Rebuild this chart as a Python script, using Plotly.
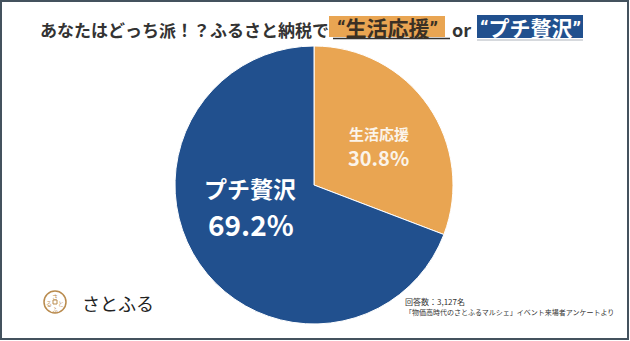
import plotly.graph_objects as go

# Survey result data
labels = ["生活応援", "プチ贅沢"]
shares = [30.8, 69.2]
slice_colors = ["#E9A552", "#21508E"]

title_main = "あなたはどっち派！？ふるさと納税で"
respondents = "回答数：3,127名"
source_note = "「物価高時代のさとふるマルシェ」イベント来場者アンケートより"
brand = "さとふる"

W, H = 630, 341
JP = "Noto Sans CJK JP"

fig = go.Figure()

# Pie: centre (314, 185) px, radius 139 px
cx, cy, r = 314, 185, 139
fig.add_trace(go.Pie(
    labels=labels,
    values=shares,
    sort=False,
    direction="clockwise",
    rotation=0,
    marker=dict(colors=slice_colors, line=dict(color="white", width=1)),
    textinfo="none",
    hoverinfo="skip",
    showlegend=False,
    domain=dict(x=[(cx - r) / W, (cx + r) / W],
                y=[(H - cy - r) / H, (H - cy + r) / H]),
))

# Hidden pixel-space axes for text and decorations
fig.update_xaxes(range=[0, W], visible=False, fixedrange=True)
fig.update_yaxes(range=[H, 0], visible=False, fixedrange=True)

ann = []
shapes = []

def text(x, y, s, size, color, bold=False, xanchor="center", family=JP):
    ann.append(dict(x=x, y=y, xref="x", yref="y", text=s, showarrow=False,
                    xanchor=xanchor, yanchor="middle",
                    font=dict(family=family, size=size, color=color,
                              weight="bold" if bold else "normal")))

def quoted(s):
    q = "<span style='font-family:Roboto'>{}</span>"
    return q.format("“") + s + q.format("”")

# Outer frame
shapes.append(dict(type="rect", xref="x", yref="y", x0=1, y0=1, x1=628, y1=339,
                   line=dict(color="#44525E", width=2), layer="above"))

# Title
text(38, 29, title_main, 17, "#333333", bold=True, xanchor="left")
shapes.append(dict(type="rect", xref="x", yref="y", x0=329, y0=16, x1=445, y1=37,
                   fillcolor=slice_colors[0], line=dict(width=0), layer="below"))
shapes.append(dict(type="line", xref="x", yref="y", x0=333, y0=38.5, x1=450, y1=38.5,
                   line=dict(color="#333333", width=1.5)))
text(387, 27, quoted(labels[0]), 21, "#3A3024", bold=True)
text(461, 29, "or", 18, "#333333", bold=True)
shapes.append(dict(type="rect", xref="x", yref="y", x0=477, y0=15, x1=583, y1=38,
                   fillcolor=slice_colors[1], line=dict(width=0), layer="below"))
shapes.append(dict(type="line", xref="x", yref="y", x0=477, y0=40, x1=583, y1=40,
                   line=dict(color="#C8CCD2", width=1.5)))
text(530, 27, quoted(labels[1]), 21, "white", bold=True)

# Slice labels
text(379, 133, labels[0], 15, "#FBF4EA", bold=True)
text(378, 157, f"{shares[0]}%", 20, "#FBF4EA", bold=True)
text(250, 188, labels[1], 23, "white", bold=True)
text(251, 224, f"{shares[1]}%", 28, "white", bold=True)

# Source note
text(403, 301, respondents, 8, "#333333", xanchor="left")
text(403, 312, source_note, 7, "#333333", xanchor="left")

# Brand mark
shapes.append(dict(type="circle", xref="x", yref="y", x0=44, y0=291, x1=66, y1=313,
                   line=dict(color="#B98B4E", width=1.5)))
for ch, dx, dy in [("さ", 0, -6), ("る", -6, 1), ("と", 6, 1), ("ふ", 0, 7)]:
    text(55 + dx, 302 + dy, ch, 6, "#B98B4E")
shapes.append(dict(type="rect", xref="x", yref="y", x0=53, y0=300, x1=57, y1=304,
                   line=dict(color="#B98B4E", width=1)))
text(80, 303, brand, 18, "#222222", xanchor="left")

fig.update_layout(
    width=W, height=H,
    margin=dict(l=0, r=0, t=0, b=0),
    paper_bgcolor="white", plot_bgcolor="white",
    annotations=ann, shapes=shapes,
)

fig.write_html("out.html")
